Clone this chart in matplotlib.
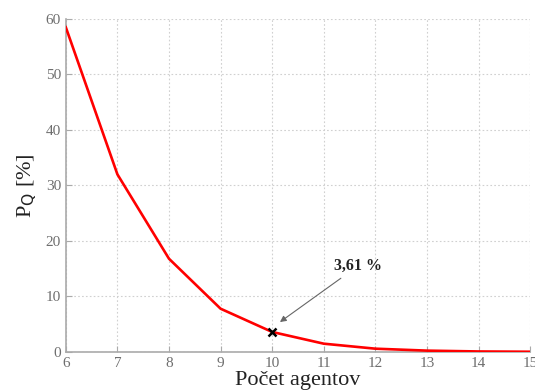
import matplotlib
matplotlib.use("Agg")
from matplotlib import pyplot as plt

# pocet agentov vs. pravdepodobnost P_Q
agents = [6, 7, 8, 9, 10, 11, 12, 13, 14, 15]
p_q = [58.5, 32.0, 16.8, 7.8, 3.61, 1.5, 0.6, 0.25, 0.1, 0.05]
mark_x = 10
mark_y = 3.61
mark_label = "3,61 %"

plt.rcParams['font.family'] = ['Liberation Serif', 'DejaVu Serif']

fig = plt.figure(figsize=(5.35, 3.91), dpi=100)
ax = fig.add_axes([0.123, 0.0997, 0.868, 0.852])

ax.plot(agents, p_q, color='#ff0000', lw=1.9, zorder=3)
ax.plot([mark_x], [mark_y], marker='x', color='black', ms=6, mew=1.8, zorder=4)
ax.annotate(mark_label, xy=(10.15, 5.4), xytext=(11.2, 14.8),
            fontsize=11.5, fontweight='bold', color='#222222',
            arrowprops=dict(arrowstyle='-|>', color='#666666', lw=0.8,
                            mutation_scale=9, shrinkA=2, shrinkB=0))

ax.set_xlim(6, 15)
ax.set_ylim(0, 60)
ax.set_xticks(range(6, 16))
ax.set_yticks(range(0, 61, 10))
ax.grid(True, linestyle=(0, (1.5, 2)), color='#d0d0d0', lw=0.8)
for side in ['top', 'right']:
    ax.spines[side].set_visible(False)
for side in ['left', 'bottom']:
    ax.spines[side].set_color('#aaaaaa')
    ax.spines[side].set_linewidth(1.2)
ax.tick_params(direction='in', length=4, color='#aaaaaa', labelcolor='#6e6e6e',
               labelsize=11)

ax.set_xlabel("Počet agentov", fontsize=16, labelpad=1, color='#222222')
ax.set_ylabel(r"P$_{\mathrm{Q}}$ [%]", fontsize=16, labelpad=5, color='#222222')

fig.savefig("out.png", dpi=100)
